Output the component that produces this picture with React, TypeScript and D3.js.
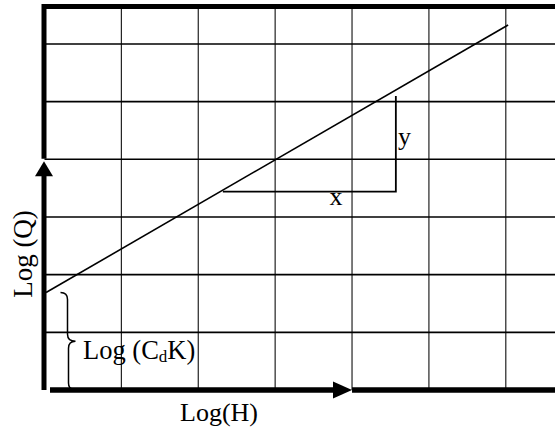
import React from "react";
import * as d3 from "d3";

// Grid positions in grid units (log-log paper)
const xGrid = [1, 2, 3, 4, 5, 6];
const yGrid = [1, 2, 3, 4, 5, 6];

// Straight line Log(Q) = Log(CdK) + n·Log(H), two end points
const lineX = [0.02, 6.03];
const lineY = [1.69, 6.33];

// Slope triangle: x run along the bottom, y rise on the right
const triX = [2.32, 4.57, 4.57];
const triY = [3.44, 3.44, 5.1];

// Labels
const xAxisLabel = "Log(H)";
const yAxisLabel = "Log (Q)";
const runLabel = "x";
const riseLabel = "y";

const W = 555;
const H = 429;
const FONT = "'Liberation Serif', 'Times New Roman', serif";

export default function App() {
  const x = d3.scaleLinear().domain([0, 6.64]).range([44.5, 555]);
  const y = d3.scaleLinear().domain([0, 6.65]).range([390, 6.5]);

  const line = d3
    .line<number>()
    .x((_, i) => x(lineX[i]))
    .y((d) => y(d));
  const tri = d3
    .line<number>()
    .x((_, i) => x(triX[i]))
    .y((d) => y(d));

  const x0 = x(0);
  const y0 = y(0);
  const yTop = y(6.65);
  const arrowX = x(4);
  const arrowY = y(4);

  // intercept brace from the axis origin up to the line start
  const bTop = y(lineY[0]);
  const bBot = y0;
  const bMid = (bTop + bBot) / 2;
  const bx = x0 + 23;

  return (
    <div style={{ position: "fixed", left: 0, top: 0, width: W, height: H, background: "#fff" }}>
      <svg width={W} height={H} style={{ display: "block" }}>
        <rect width={W} height={H} fill="#fff" />
        {/* grid */}
        {xGrid.map((g) => (
          <line key={"vx" + g} x1={x(g)} x2={x(g)} y1={yTop} y2={y0} stroke="#222" strokeWidth={1.2} />
        ))}
        {yGrid.map((g) => (
          <line key={"hy" + g} x1={x0} x2={W} y1={y(g)} y2={y(g)} stroke="#000" strokeWidth={1.6} />
        ))}
        {/* top border */}
        <line x1={x0 - 0.5} x2={W} y1={yTop} y2={yTop} stroke="#000" strokeWidth={5} />
        {/* vertical axis: upper thick segment, then arrow and shaft */}
        <line x1={x0 - 0.5} x2={x0 - 0.5} y1={yTop - 2.5} y2={arrowY - 0.5} stroke="#000" strokeWidth={5} />
        <line x1={x0 - 0.5} x2={x0 - 0.5} y1={arrowY + 14} y2={y0} stroke="#000" strokeWidth={5} />
        <path
          d={`M${x0 - 0.5},${arrowY + 2} L${x0 - 9.5},${arrowY + 17} L${x0 + 8.5},${arrowY + 17} Z`}
          fill="#000"
        />
        {/* horizontal axis: shaft with arrow, then thick segment */}
        <line x1={x0 + 5.5} x2={arrowX - 17} y1={y0} y2={y0} stroke="#000" strokeWidth={5.5} />
        <path
          d={`M${arrowX},${y0} L${arrowX - 19},${y0 - 8.5} L${arrowX - 19},${y0 + 8.5} Z`}
          fill="#000"
        />
        <line x1={arrowX} x2={W} y1={y0} y2={y0} stroke="#000" strokeWidth={5.5} />
        {/* data line */}
        <path d={line(lineY) ?? ""} fill="none" stroke="#000" strokeWidth={1.6} />
        {/* slope triangle */}
        <path d={tri(triY) ?? ""} fill="none" stroke="#000" strokeWidth={1.8} />
        {/* brace marking the intercept */}
        <path
          d={`M${bx - 7},${bTop} Q${bx},${bTop} ${bx},${bTop + 7} L${bx},${bMid - 7} Q${bx},${bMid} ${bx + 8},${bMid}
             Q${bx + 1},${bMid} ${bx + 1},${bMid + 7} L${bx + 1},${bBot - 7} Q${bx + 1},${bBot - 1} ${bx + 6},${bBot - 1}`}
          fill="none"
          stroke="#000"
          strokeWidth={1.5}
        />
        {/* labels */}
        <text x={83} y={359} fontFamily={FONT} fontSize={26.5} fill="#000">
          Log (C
          <tspan fontSize={17} dy={3}>
            d
          </tspan>
          <tspan dy={-3}>K)</tspan>
        </text>
        <text x={219} y={421} fontFamily={FONT} fontSize={26} textAnchor="middle" fill="#000">
          {xAxisLabel}
        </text>
        <text
          transform={`translate(32,254) rotate(-90)`}
          fontFamily={FONT}
          fontSize={27}
          textAnchor="middle"
          fill="#000"
        >
          {yAxisLabel}
        </text>
        <text x={336} y={205} fontFamily={FONT} fontSize={26} textAnchor="middle" fill="#000">
          {runLabel}
        </text>
        <text x={398} y={145} fontFamily={FONT} fontSize={26} fill="#000">
          {riseLabel}
        </text>
      </svg>
    </div>
  );
}
